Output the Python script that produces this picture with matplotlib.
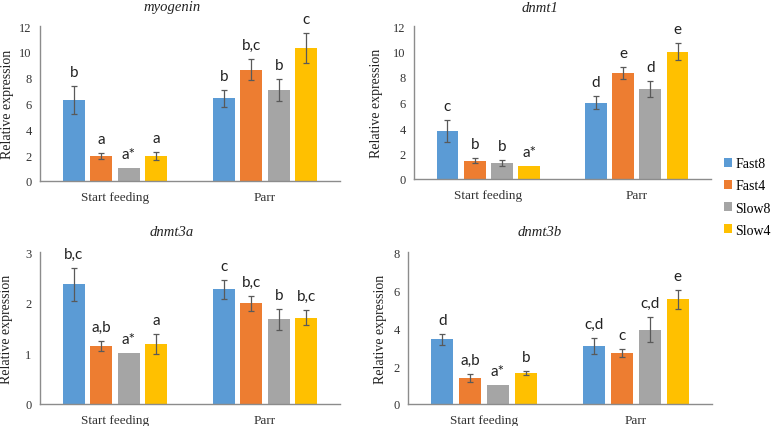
import matplotlib
matplotlib.use("Agg")
import matplotlib.pyplot as plt
import numpy as np
from matplotlib.patches import Patch

categories = ["Start feeding", "Parr"]
series = ["Fast8", "Fast4", "Slow8", "Slow4"]
colors = ["#5B9BD5", "#ED7D31", "#A5A5A5", "#FFC000"]

# myogenin
myo_vals = [[6.25, 6.4], [1.94, 8.62], [1.0, 7.05], [1.94, 10.32]]
myo_err = [[1.1, 0.65], [0.25, 0.83], [0.0, 0.82], [0.33, 1.16]]
myo_lbl = [["b", "b"], ["a", "b,c"], ["a*", "b"], ["a", "c"]]

# dnmt1
d1_vals = [[3.8, 6.0], [1.44, 8.33], [1.26, 7.07], [1.0, 10.0]]
d1_err = [[0.86, 0.5], [0.18, 0.45], [0.23, 0.63], [0.0, 0.69]]
d1_lbl = [["c", "d"], ["b", "e"], ["b", "d"], ["a*", "e"]]

# dnmt3a
d3a_vals = [[2.36, 2.26], [1.15, 1.99], [1.0, 1.67], [1.18, 1.70]]
d3a_err = [[0.32, 0.19], [0.1, 0.15], [0.0, 0.2], [0.2, 0.15]]
d3a_lbl = [["b,c", "c"], ["a,b", "b,c"], ["a*", "b"], ["a", "b,c"]]

# dnmt3b
d3b_vals = [[3.41, 3.05], [1.38, 2.71], [1.0, 3.92], [1.63, 5.52]]
d3b_err = [[0.3, 0.42], [0.21, 0.21], [0.0, 0.68], [0.09, 0.5]]
d3b_lbl = [["d", "c,d"], ["a,b", "c"], ["a*", "c,d"], ["b", "e"]]

W, H = 780, 427
fig = plt.figure(figsize=(W / 100, H / 100), dpi=100)

panels = [
    # title, vals, err, lbl, ymax, step, (left, right, top, bottom) px, title pos, ylabel offset px
    ("myogenin", myo_vals, myo_err, myo_lbl, 12, 2, (40, 340, 27, 182), (172, 8), 26),
    ("dnmt1", d1_vals, d1_err, d1_lbl, 12, 2, (414, 711, 27, 180), (540, 8), 31),
    ("dnmt3a", d3a_vals, d3a_err, d3a_lbl, 3, 1, (40, 340, 253, 405), (172, 233), 27),
    ("dnmt3b", d3b_vals, d3b_err, d3b_lbl, 8, 2, (408, 712, 253, 405), (540, 233), 21),
]

serif = "Liberation Serif"
axis_col = "#8C8C8C"
bw = 0.147
stride = 0.183

for title, vals, err, lbl, ymax, step, (l, r, t, b), (tx, ty), yoff in panels:
    ax = fig.add_axes([l / W, 1 - b / H, (r - l) / W, (b - t) / H])
    x = np.arange(len(categories))
    for i, s in enumerate(series):
        xs = x + (i - 1.5) * stride
        v = np.array(vals[i])
        e = np.array(err[i])
        ax.bar(xs, v, width=bw, color=colors[i], zorder=2)
        for j in range(len(categories)):
            if e[j] > 0:
                ax.errorbar(xs[j], v[j], yerr=e[j], fmt="none", ecolor="#595959",
                            elinewidth=0.9, capsize=2.2, capthick=0.9, zorder=3)
            ax.annotate(lbl[i][j], xy=(xs[j], v[j] + e[j]), xytext=(0, 10),
                        textcoords="offset pixels", ha="center", va="baseline",
                        fontsize=11, family="Lato", color="#222222")
    ax.set_xlim(-0.5, 1.5)
    ax.set_ylim(0, ymax)
    ax.set_yticks(np.arange(0, ymax + step / 2, step))
    ax.set_xticks(x)
    ax.set_xticklabels(categories, family=serif, fontsize=9.5)
    for lab in ax.get_yticklabels():
        lab.set_family(serif)
        lab.set_fontsize(9)
    ax.tick_params(axis="both", length=0, colors="#333333")
    ax.tick_params(axis="y", pad=6)
    ax.tick_params(axis="x", pad=7)
    for sp in ["top", "right"]:
        ax.spines[sp].set_visible(False)
    for sp in ["left", "bottom"]:
        ax.spines[sp].set_color(axis_col)
        ax.spines[sp].set_linewidth(1.0)
    ax.set_ylabel("Relative expression", family=serif, fontsize=10, color="#222222")
    ax.yaxis.set_label_coords(-yoff / (r - l), 0.5)
    fig.text(tx / W, 1 - ty / H, title, ha="center", va="center",
             family=serif, style="italic", fontsize=10.5, color="#222222")

handles = [Patch(facecolor=c, edgecolor="none") for c in colors]
fig.legend(handles, series, loc="center left", bbox_to_anchor=(724 / W, 1 - 198 / H),
           frameon=False, prop={"family": serif, "size": 10}, handlelength=0.6,
           handleheight=0.6, handletextpad=0.2, labelspacing=0.65, borderpad=0,
           borderaxespad=0)

fig.savefig("out.png", dpi=100)
